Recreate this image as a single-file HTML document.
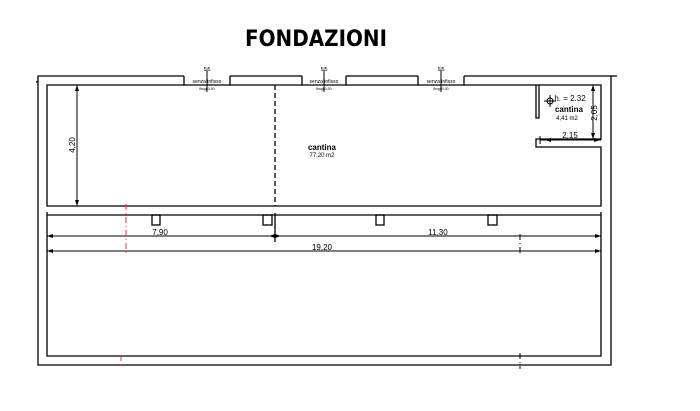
<!DOCTYPE html>
<html><head><meta charset="utf-8"><style>
html,body{margin:0;padding:0;background:#fff;}
svg{display:block;font-family:"Liberation Sans",sans-serif;}
</style></head><body>
<svg width="700" height="411" viewBox="0 0 700 411" xmlns="http://www.w3.org/2000/svg">
<text x="316" y="46" text-anchor="middle" font-size="22" font-weight="bold" fill="#000" font-family="'DejaVu Sans',sans-serif" textLength="142" lengthAdjust="spacingAndGlyphs">FONDAZIONI</text>
<g stroke="#000" stroke-width="1.3" fill="none">
<polyline points="184,76 38,76 38,365 611,365 611,76 464,76"/>
<line x1="230" y1="76" x2="302" y2="76"/>
<line x1="346" y1="76" x2="418" y2="76"/>
<line x1="611" y1="76" x2="617" y2="76"/>
<line x1="36" y1="82" x2="38" y2="82"/>
<polyline points="184,76 184,85 230,85 230,76"/>
<polyline points="302,76 302,85 346,85 346,76"/>
<polyline points="418,76 418,85 464,85 464,76"/>
<line x1="207" y1="70" x2="207" y2="92" stroke-width="1"/>
<line x1="324" y1="70" x2="324" y2="92" stroke-width="1"/>
<line x1="441" y1="70" x2="441" y2="92" stroke-width="1"/>
<polyline points="184,85 47,85 47,206 601,206 601,147 536,147 536,139 539,139"/>
<line x1="230" y1="85" x2="302" y2="85"/>
<line x1="346" y1="85" x2="418" y2="85"/>
<polyline points="464,85 601,85 601,139 539,139"/>
<polyline points="536,85 536,118 539,118 539,85"/>
<line x1="275" y1="85" x2="275" y2="206" stroke-dasharray="5,3"/>
<line x1="275" y1="213" x2="275" y2="242"/>
<polyline points="47,212 47,356 601,356 601,212"/>
<line x1="47" y1="215" x2="601" y2="215"/>
<rect x="152" y="215" width="8" height="10"/>
<rect x="263" y="215" width="9" height="10"/>
<rect x="376" y="215" width="8" height="10"/>
<rect x="488" y="215" width="9" height="10"/>
<line x1="47" y1="236" x2="601" y2="236" stroke-width="1"/>
<line x1="47" y1="251" x2="601" y2="251" stroke-width="1"/>
<line x1="77" y1="85" x2="77" y2="206" stroke-width="1"/>
<line x1="593" y1="85" x2="593" y2="139" stroke-width="1"/>
<line x1="540" y1="140" x2="601" y2="140" stroke-width="1"/>
<line x1="540" y1="136" x2="540" y2="144" stroke-width="1"/>
<line x1="520" y1="234" x2="520" y2="256" stroke-dasharray="6,3,1,3" stroke-width="1"/>
<line x1="520" y1="353" x2="520" y2="369" stroke-dasharray="6,3,1,3" stroke-width="1"/>
<circle cx="550" cy="101" r="3" stroke-width="1"/>
<line x1="544" y1="101" x2="556" y2="101" stroke-width="1"/>
<line x1="550" y1="95" x2="550" y2="107" stroke-width="1"/>
</g>
<g stroke="#e33" stroke-width="1" stroke-dasharray="6,3,1,3">
<line x1="126" y1="204" x2="126" y2="256"/>
<line x1="121" y1="355" x2="121" y2="367"/>
</g>
<g fill="#000">
<polygon points="47,236 53,234 53,238"/><polygon points="601,236 595,234 595,238"/>
<polygon points="47,251 53,249 53,253"/><polygon points="601,251 595,249 595,253"/>
<polygon points="269,236 275,234 275,238"/><polygon points="281,236 275,234 275,238"/>
<polygon points="77,85 75,91 79,91"/><polygon points="77,206 75,200 79,200"/>
<polygon points="593,85 591,91 595,91"/><polygon points="593,139 591,133 595,133"/>
<polygon points="545,140 551,138 551,142"/><polygon points="600,140 594,138 594,142"/>
</g>
<g font-size="5" fill="#000" text-anchor="middle">
<text x="207" y="71">5|5</text><text x="324" y="71">5|5</text><text x="441" y="71">5|5</text>
<text x="207" y="83">senza infisso</text><text x="324" y="83">senza infisso</text><text x="441" y="83">senza infisso</text>
<text x="207" y="90" font-size="3.5">fksgh0,00</text><text x="324" y="90" font-size="3.5">fksgh0,00</text><text x="441" y="90" font-size="3.5">fksgh0,00</text>
</g>
<text x="322" y="150" font-size="8" font-weight="bold" text-anchor="middle" fill="#000">cantina</text>
<text x="322" y="157" font-size="6" text-anchor="middle" fill="#000">77,20 m2</text>
<text x="569" y="112" font-size="8" font-weight="bold" text-anchor="middle" fill="#000">cantina</text>
<text x="567" y="120" font-size="6" text-anchor="middle" fill="#000">4,41 m2</text>
<text x="570" y="101" font-size="8" text-anchor="middle" fill="#000">h. = 2.32</text>
<text x="570" y="138" font-size="8" text-anchor="middle" fill="#000">2,15</text>
<text x="160" y="235" font-size="8" text-anchor="middle" fill="#000">7,90</text>
<text x="438" y="235" font-size="8" text-anchor="middle" fill="#000">11,30</text>
<text x="322" y="250" font-size="8" text-anchor="middle" fill="#000">19,20</text>
<text transform="translate(75,145) rotate(-90)" font-size="8" text-anchor="middle" fill="#000">4,20</text>
<text transform="translate(597,113) rotate(-90)" font-size="8" text-anchor="middle" fill="#000">2,05</text>
</svg>
</body></html>
